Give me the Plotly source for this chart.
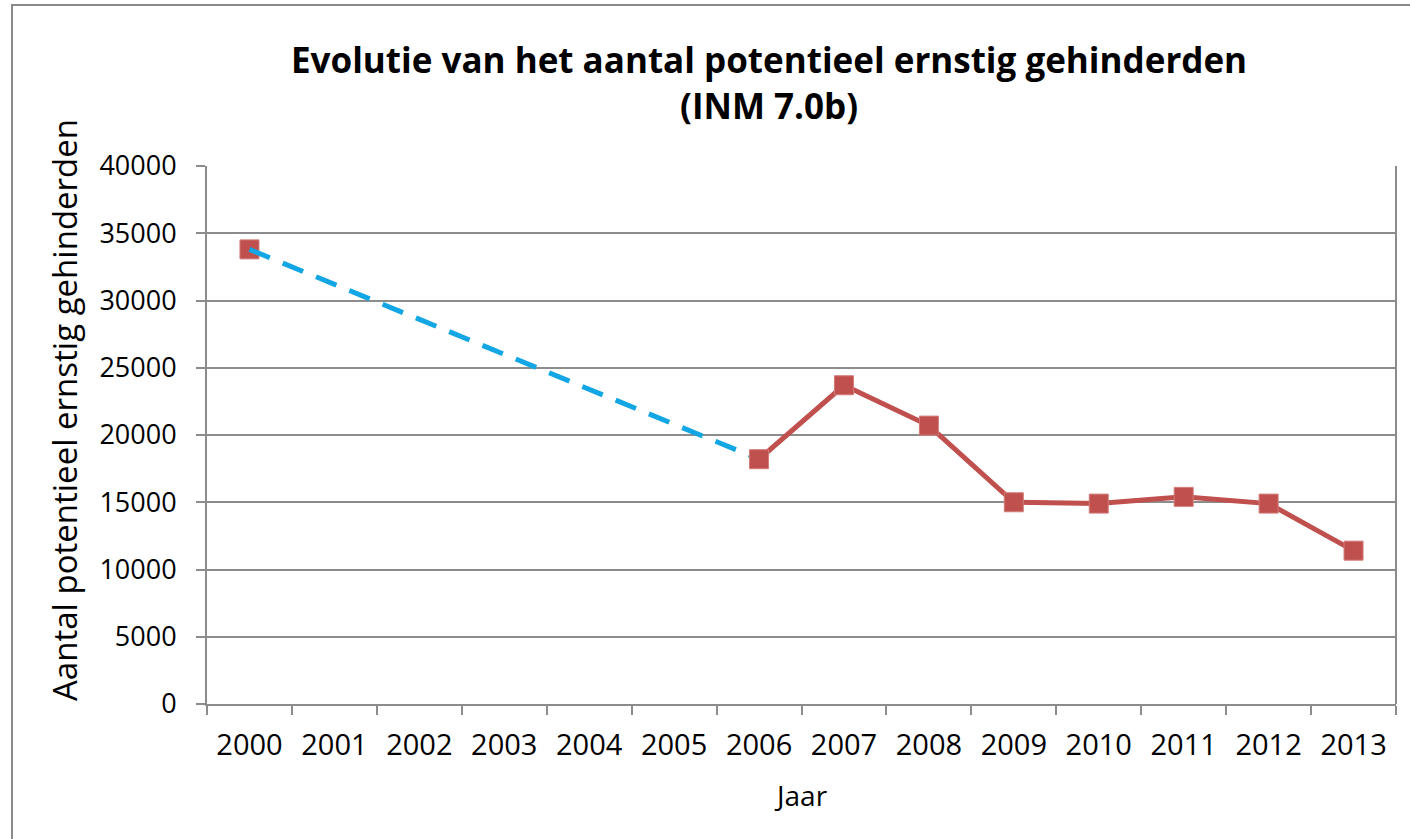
import plotly.graph_objects as go

years = ["2000", "2001", "2002", "2003", "2004", "2005", "2006",
         "2007", "2008", "2009", "2010", "2011", "2012", "2013"]
values = [33800, None, None, None, None, None, 18200,
          23700, 20700, 15000, 14900, 15400, 14900, 11400]
y_ticks = [0, 5000, 10000, 15000, 20000, 25000, 30000, 35000, 40000]

title_text = "<b>Evolutie van het aantal potentieel ernstig gehinderden<br>(INM 7.0b)</b>"
x_title = "Jaar"
y_title = "Aantal potentieel ernstig gehinderden"

RED = "#C0504D"
BLUE = "#12A6E4"
GRID = "#8C8C8C"
FONT = "Open Sans"

# plot area in pixels (for paper-coordinate conversions)
PL, PR, PT, PB = 207, 1396, 166, 704
PW, PH = PR - PL, PB - PT


def px(x):
    return (x - PL) / PW


def py(y):
    return (PB - y) / PH


fig = go.Figure()

fig.add_trace(go.Scatter(
    x=years[:1], y=values[:1], mode="markers",
    marker=dict(symbol="square", size=19, color=RED,
                line=dict(color="#D27C79", width=1)),
    showlegend=False, hoverinfo="skip"))

fig.add_trace(go.Scatter(
    x=[years[0], years[6]], y=[values[0], values[6]], mode="lines",
    line=dict(color=BLUE, width=5, dash="22px,14px"),
    showlegend=False))

fig.add_trace(go.Scatter(
    x=years[6:], y=values[6:], mode="lines+markers",
    line=dict(color=RED, width=5),
    marker=dict(symbol="square", size=19, color=RED,
                line=dict(color="#D27C79", width=1)),
    showlegend=False))

fig.update_layout(
    width=1410, height=839,
    margin=dict(l=PL, r=1410 - PR, t=PT, b=839 - PB, autoexpand=False),
    paper_bgcolor="white", plot_bgcolor="white",
    font=dict(family=FONT, color="black", size=29),
    xaxis=dict(
        type="category", categoryorder="array", categoryarray=years,
        tickson="boundaries", ticks="outside", ticklen=9, tickwidth=2,
        tickcolor=GRID, showline=True, linecolor=GRID, linewidth=2,
        showgrid=False, ticklabelstandoff=14, automargin=False,
        tickfont=dict(size=29),
        range=[-0.5, 13.5], fixedrange=True),
    yaxis=dict(
        range=[0, 40000], tickvals=y_ticks, ticktext=[str(v) for v in y_ticks],
        ticks="outside", ticklen=9, tickwidth=2, tickcolor=GRID,
        showline=True, linecolor=GRID, linewidth=2,
        showgrid=True, gridcolor=GRID, gridwidth=2,
        zeroline=False, ticklabelstandoff=14, automargin=False,
        tickfont=dict(size=27)),
)

fig.add_annotation(text=title_text, xref="paper", yref="paper",
                   x=px(769), y=py(83), xanchor="center", yanchor="middle",
                   showarrow=False, font=dict(family=FONT, size=35, color="black"))
fig.add_annotation(text=x_title, xref="paper", yref="paper",
                   x=px(801), y=py(795), xanchor="center", yanchor="middle",
                   showarrow=False, font=dict(family=FONT, size=28, color="black"))
fig.add_annotation(text=y_title, xref="paper", yref="paper",
                   x=px(64), y=py(410), xanchor="center", yanchor="middle",
                   textangle=-90, showarrow=False,
                   font=dict(family=FONT, size=33, color="black"))

fig.add_shape(type="rect", xref="paper", yref="paper",
              x0=px(12), x1=px(1420), y0=py(845), y1=py(5),
              line=dict(color="#8A8A8A", width=2), layer="below")
fig.add_shape(type="line", xref="paper", yref="paper",
              x0=1, x1=1, y0=0, y1=1,
              line=dict(color=GRID, width=2), layer="below")

fig.write_html("out.html",
               config={"displayModeBar": False},
               post_script="document.body.style.margin='0';")
